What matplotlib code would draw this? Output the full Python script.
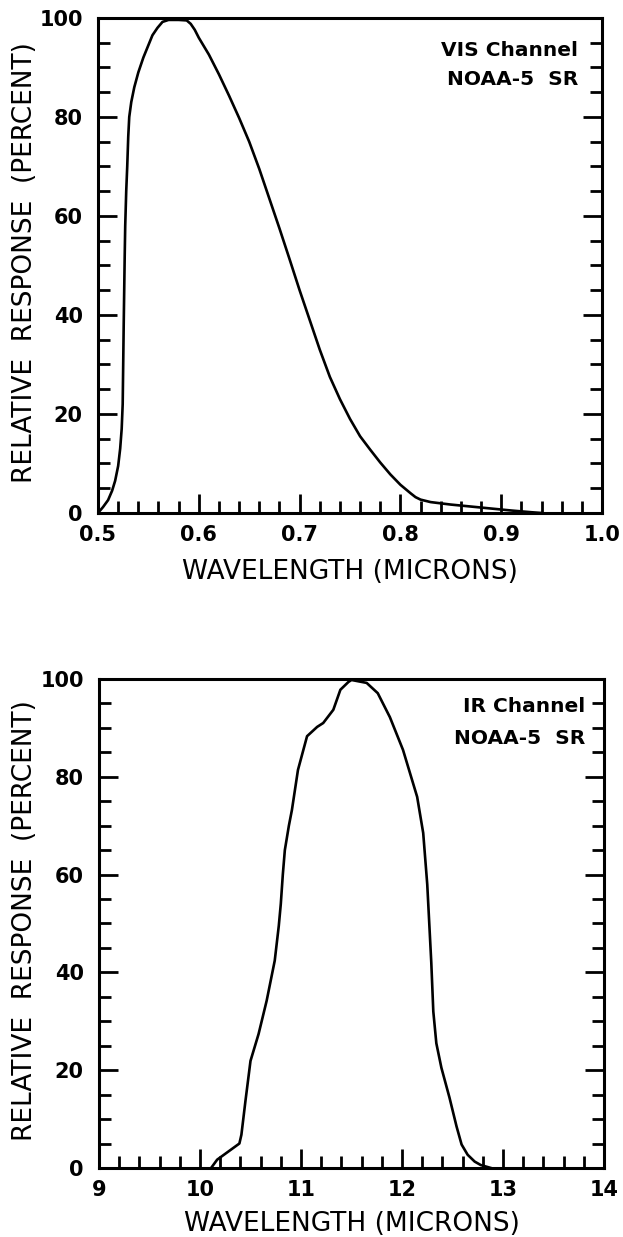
import numpy as np
import matplotlib.pyplot as plt
from matplotlib.ticker import MultipleLocator, FormatStrFormatter

# Canal visible (micras, % respuesta relativa)
vis_wl = [0.500, 0.505, 0.510, 0.514, 0.517, 0.520, 0.522, 0.5235, 0.5245, 0.525,
          0.5255, 0.526, 0.5265, 0.527, 0.528, 0.529, 0.530, 0.531, 0.533, 0.536,
          0.540, 0.545, 0.549, 0.554, 0.559, 0.564, 0.570, 0.580, 0.588, 0.592,
          0.596, 0.600, 0.610, 0.620, 0.630, 0.640, 0.650, 0.660, 0.670, 0.680,
          0.690, 0.700, 0.710, 0.720, 0.730, 0.740, 0.750, 0.760, 0.770, 0.780,
          0.790, 0.800, 0.810, 0.815, 0.820, 0.830, 0.850, 0.870, 0.890, 0.910,
          0.930, 0.940]
vis_resp = [0.0, 1.2, 2.6, 4.5, 6.5, 9.5, 13.0, 17.0, 22.0, 30.0,
            38.0, 45.0, 52.0, 58.0, 65.0, 70.0, 76.0, 80.0, 83.0, 86.0,
            89.0, 92.0, 94.0, 96.5, 98.0, 99.2, 99.6, 99.6, 99.5, 98.8,
            97.6, 96.0, 92.6, 88.6, 84.3, 79.8, 75.0, 69.5, 63.5, 57.5,
            51.3, 45.0, 39.0, 33.0, 27.5, 23.0, 19.0, 15.5, 12.8, 10.2,
            7.8, 5.7, 4.0, 3.2, 2.7, 2.2, 1.7, 1.3, 0.9, 0.5,
            0.15, 0.0]

# Canal infrarrojo
ir_wl = [10.11, 10.17, 10.39, 10.41, 10.45, 10.50, 10.58, 10.66, 10.74, 10.78,
         10.80, 10.82, 10.84, 10.88, 10.91, 10.97, 11.06, 11.16, 11.22, 11.32,
         11.39, 11.47, 11.50, 11.65, 11.76, 11.88, 12.01, 12.15, 12.21, 12.25,
         12.27, 12.29, 12.31, 12.34, 12.39, 12.47, 12.54, 12.59, 12.65, 12.72,
         12.78, 12.88]
ir_resp = [0.0, 1.7, 5.0, 6.8, 13.7, 21.9, 27.4, 34.2, 42.4, 49.5,
           54.0, 60.0, 65.0, 70.0, 73.2, 81.4, 88.3, 90.2, 91.0, 93.7,
           97.8, 99.4, 99.8, 99.2, 97.1, 92.2, 85.5, 75.9, 68.5, 58.0,
           50.0, 42.0, 32.0, 25.5, 20.5, 14.4, 8.5, 4.8, 2.7, 1.3,
           0.6, 0.0]

plt.rcParams['font.family'] = ['DejaVu Sans']

fig = plt.figure(figsize=(6.23, 12.37), dpi=100)
ax1 = fig.add_axes([0.1573, 0.5853, 0.809, 0.4002])
ax2 = fig.add_axes([0.1589, 0.0558, 0.8106, 0.3953])


def estilo(ax, xlim, xmaj, xmin, fmt, nombre, pos_nombre, xlab_y):
    ax.set_xlim(*xlim)
    ax.set_ylim(0, 100)
    ax.xaxis.set_major_locator(MultipleLocator(xmaj))
    ax.xaxis.set_minor_locator(MultipleLocator(xmin))
    ax.xaxis.set_major_formatter(FormatStrFormatter(fmt))
    ax.yaxis.set_major_locator(MultipleLocator(20))
    ax.yaxis.set_minor_locator(MultipleLocator(5))
    for s in ax.spines.values():
        s.set_linewidth(2.2)
    ax.tick_params(which='both', direction='in', width=2.0, right=True, top=False,
                   labelsize=15)
    ax.tick_params(axis='y', pad=11)
    ax.tick_params(axis='x', pad=9)
    ax.tick_params(which='major', length=14)
    ax.tick_params(which='minor', length=8.5)
    for lab in ax.get_xticklabels() + ax.get_yticklabels():
        lab.set_fontweight('bold')
    ax.set_xlabel('WAVELENGTH (MICRONS)', fontsize=19)
    ax.set_ylabel('RELATIVE  RESPONSE  (PERCENT)', fontsize=19)
    ax.yaxis.set_label_coords(-0.12, 0.505)
    ax.xaxis.set_label_coords(0.5, xlab_y)
    xr, y1, y2 = pos_nombre
    ax.text(xr, y1, nombre, transform=ax.transAxes, ha='right', va='center',
            fontsize=14.5, fontweight='bold')
    ax.text(xr, y2, 'NOAA-5  SR', transform=ax.transAxes, ha='right', va='center',
            fontsize=14.5, fontweight='bold')


ax1.plot(vis_wl, vis_resp, color='black', linewidth=1.9, solid_joinstyle='round')
estilo(ax1, (0.5, 1.0), 0.1, 0.02, '%.1f', 'VIS Channel', (0.953, 0.935, 0.875), -0.092)

ax2.plot(ir_wl, ir_resp, color='black', linewidth=1.9, solid_joinstyle='round')
estilo(ax2, (9, 14), 1, 0.2, '%d', 'IR Channel', (0.962, 0.943, 0.879), -0.088)

fig.savefig('out.png', dpi=100)
